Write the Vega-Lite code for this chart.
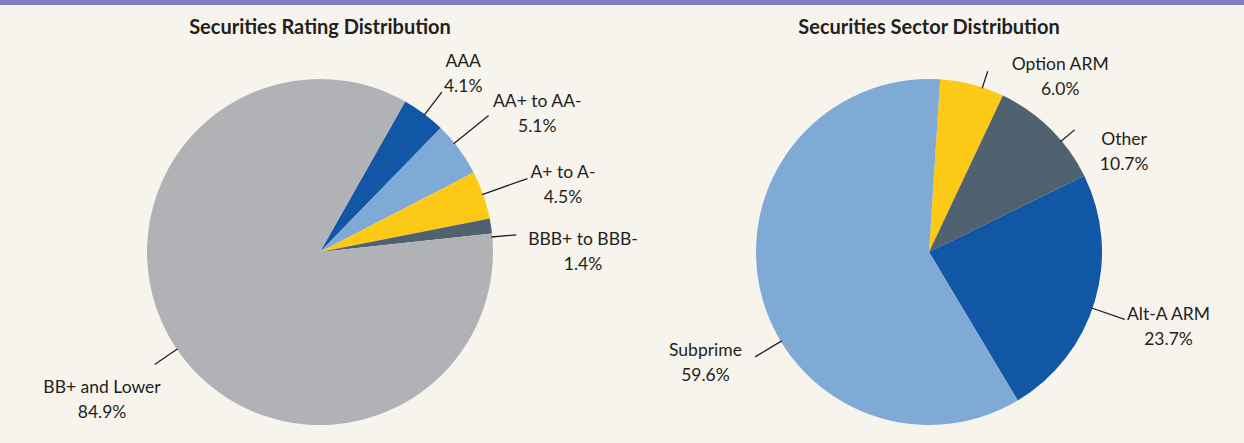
{
  "$schema": "https://vega.github.io/schema/vega-lite/v6.json",
  "background": "#f7f4ee",
  "padding": 0,
  "spacing": 13,
  "config": {
    "view": {"stroke": null, "fill": "#f7f4ee"},
    "text": {"font": "Lato", "fontSize": 17.5, "color": "#231f20", "baseline": "middle", "align": "center"},
    "title": {"font": "Lato", "fontSize": 20, "fontWeight": "bold", "color": "#231f20", "anchor": "middle", "frame": "group", "offset": 0}
  },
  "vconcat": [
    {
      "width": 1244,
      "height": 5,
      "data": {"values": [{"band": "top"}]},
      "mark": {"type": "rect", "color": "#7f80c2"},
      "encoding": {}
    },
    {
      "spacing": 0,
      "resolve": {"scale": {"color": "independent", "theta": "independent"}},
      "hconcat": [
        {
          "width": 640,
          "height": 420,
          "title": {"text": "Securities Rating Distribution"},
          "data": {"values": [
            {"category": "AAA", "share": 0.041},
            {"category": "AA+ to AA-", "share": 0.051},
            {"category": "A+ to A-", "share": 0.045},
            {"category": "BBB+ to BBB-", "share": 0.014},
            {"category": "BB+ and Lower", "share": 0.849}
          ]},
          "transform": [
            {"window": [{"op": "row_number", "as": "idx"}]},
            {"stack": "share", "groupby": [], "sort": [{"field": "idx", "order": "ascending"}], "as": ["s0", "s1"]}
          ],
          "encoding": {
            "theta": {"field": "s0", "type": "quantitative", "scale": {"domain": [0, 1], "range": [0.5149, 6.7981]}}
          },
          "layer": [
            {
              "mark": {"type": "arc", "radius": 173},
              "encoding": {
                "theta2": {"field": "s1"},
                "color": {"field": "category", "type": "nominal", "legend": null,
                "scale": {"domain": ["AAA", "AA+ to AA-", "A+ to A-", "BBB+ to BBB-", "BB+ and Lower"],
                          "range": ["#1256a6", "#7eaad5", "#fcc917", "#50616f", "#b1b2b6"]}}}
            },
            {"transform": [{"filter": "datum.category === 'AAA'"}], "layer": [
              {"mark": {"type": "arc", "filled": false, "color": "#231f20", "strokeWidth": 1.3, "radius": 201, "radius2": 172, "thetaOffset": 0.1361, "theta2Offset": 0.1361}, "encoding": {"theta2": {"field": "s0"}}},
              {"mark": {"type": "text", "radius": 228, "thetaOffset": 0.1641, "dy": -12.5}, "encoding": {"text": {"field": "category"}}},
              {"mark": {"type": "text", "radius": 228, "thetaOffset": 0.1641, "dy": 12.5}, "encoding": {"text": {"field": "share", "type": "quantitative", "format": ".1%"}}}
            ]},
            {"transform": [{"filter": "datum.category === 'AA+ to AA-'"}], "layer": [
              {"mark": {"type": "arc", "filled": false, "color": "#231f20", "strokeWidth": 1.3, "radius": 217, "radius2": 172, "thetaOffset": 0.1176, "theta2Offset": 0.1176}, "encoding": {"theta2": {"field": "s0"}}},
              {"mark": {"type": "text", "radius": 257, "thetaOffset": 0.2346, "dy": -12.5}, "encoding": {"text": {"field": "category"}}},
              {"mark": {"type": "text", "radius": 257, "thetaOffset": 0.2346, "dy": 12.5}, "encoding": {"text": {"field": "share", "type": "quantitative", "format": ".1%"}}}
            ]},
            {"transform": [{"filter": "datum.category === 'A+ to A-'"}], "layer": [
              {"mark": {"type": "arc", "filled": false, "color": "#231f20", "strokeWidth": 1.3, "radius": 220, "radius2": 172, "thetaOffset": 0.1375, "theta2Offset": 0.1375}, "encoding": {"theta2": {"field": "s0"}}},
              {"mark": {"type": "text", "radius": 252, "thetaOffset": 0.2091, "dy": -12.5}, "encoding": {"text": {"field": "category"}}},
              {"mark": {"type": "text", "radius": 252, "thetaOffset": 0.2091, "dy": 12.5}, "encoding": {"text": {"field": "share", "type": "quantitative", "format": ".1%"}}}
            ]},
            {"transform": [{"filter": "datum.category === 'BBB+ to BBB-'"}], "layer": [
              {"mark": {"type": "arc", "filled": false, "color": "#231f20", "strokeWidth": 1.3, "radius": 197, "radius2": 172, "thetaOffset": 0.1079, "theta2Offset": 0.1079}, "encoding": {"theta2": {"field": "s0"}}},
              {"mark": {"type": "text", "radius": 263, "thetaOffset": 0.1986, "dy": -12.5}, "encoding": {"text": {"field": "category"}}},
              {"mark": {"type": "text", "radius": 263, "thetaOffset": 0.1986, "dy": 12.5}, "encoding": {"text": {"field": "share", "type": "quantitative", "format": ".1%"}}}
            ]},
            {"transform": [{"filter": "datum.category === 'BB+ and Lower'"}], "layer": [
              {"mark": {"type": "arc", "filled": false, "color": "#231f20", "strokeWidth": 1.3, "radius": 200, "radius2": 172, "thetaOffset": 2.6518, "theta2Offset": 2.6518}, "encoding": {"theta2": {"field": "s0"}}},
              {"mark": {"type": "text", "radius": 264, "thetaOffset": 2.6492, "dy": -12.5}, "encoding": {"text": {"field": "category"}}},
              {"mark": {"type": "text", "radius": 264, "thetaOffset": 2.6492, "dy": 12.5}, "encoding": {"text": {"field": "share", "type": "quantitative", "format": ".1%"}}}
            ]}
          ]
        },
        {
          "width": 578,
          "height": 420,
          "title": {"text": "Securities Sector Distribution"},
          "data": {"values": [
            {"category": "Option ARM", "share": 0.060},
            {"category": "Other", "share": 0.107},
            {"category": "Alt-A ARM", "share": 0.237},
            {"category": "Subprime", "share": 0.596}
          ]},
          "transform": [
            {"window": [{"op": "row_number", "as": "idx"}]},
            {"stack": "share", "groupby": [], "sort": [{"field": "idx", "order": "ascending"}], "as": ["s0", "s1"]}
          ],
          "encoding": {
            "theta": {"field": "s0", "type": "quantitative", "scale": {"domain": [0, 1], "range": [0.0646, 6.3478]}}
          },
          "layer": [
            {
              "mark": {"type": "arc", "radius": 173},
              "encoding": {
                "theta2": {"field": "s1"},
                "color": {"field": "category", "type": "nominal", "legend": null,
                "scale": {"domain": ["Option ARM", "Other", "Alt-A ARM", "Subprime"],
                          "range": ["#fcc917", "#50616f", "#1256a6", "#7eaad5"]}}}
            },
            {"transform": [{"filter": "datum.category === 'Option ARM'"}], "layer": [
              {"mark": {"type": "arc", "filled": false, "color": "#231f20", "strokeWidth": 1.3, "radius": 190, "radius2": 172, "thetaOffset": 0.2496, "theta2Offset": 0.2496}, "encoding": {"theta2": {"field": "s0"}}},
              {"mark": {"type": "text", "radius": 218, "thetaOffset": 0.5812, "dy": -12.5}, "encoding": {"text": {"field": "category"}}},
              {"mark": {"type": "text", "radius": 218, "thetaOffset": 0.5812, "dy": 12.5}, "encoding": {"text": {"field": "share", "type": "quantitative", "format": ".1%"}}}
            ]},
            {"transform": [{"filter": "datum.category === 'Other'"}], "layer": [
              {"mark": {"type": "arc", "filled": false, "color": "#231f20", "strokeWidth": 1.3, "radius": 190, "radius2": 172, "thetaOffset": 0.4311, "theta2Offset": 0.4311}, "encoding": {"theta2": {"field": "s0"}}},
              {"mark": {"type": "text", "radius": 219, "thetaOffset": 0.658, "dy": -12.5}, "encoding": {"text": {"field": "category"}}},
              {"mark": {"type": "text", "radius": 219, "thetaOffset": 0.658, "dy": 12.5}, "encoding": {"text": {"field": "share", "type": "quantitative", "format": ".1%"}}}
            ]},
            {"transform": [{"filter": "datum.category === 'Alt-A ARM'"}], "layer": [
              {"mark": {"type": "arc", "filled": false, "color": "#231f20", "strokeWidth": 1.3, "radius": 207, "radius2": 172, "thetaOffset": 0.7885, "theta2Offset": 0.7885}, "encoding": {"theta2": {"field": "s0"}}},
              {"mark": {"type": "text", "radius": 251, "thetaOffset": 0.7606, "dy": -12.5}, "encoding": {"text": {"field": "category"}}},
              {"mark": {"type": "text", "radius": 251, "thetaOffset": 0.7606, "dy": 12.5}, "encoding": {"text": {"field": "share", "type": "quantitative", "format": ".1%"}}}
            ]},
            {"transform": [{"filter": "datum.category === 'Subprime'"}], "layer": [
              {"mark": {"type": "arc", "filled": false, "color": "#231f20", "strokeWidth": 1.3, "radius": 203, "radius2": 172, "thetaOffset": 1.5666, "theta2Offset": 1.5666}, "encoding": {"theta2": {"field": "s0"}}},
              {"mark": {"type": "text", "radius": 250, "thetaOffset": 1.6452, "dy": -12.5}, "encoding": {"text": {"field": "category"}}},
              {"mark": {"type": "text", "radius": 250, "thetaOffset": 1.6452, "dy": 12.5}, "encoding": {"text": {"field": "share", "type": "quantitative", "format": ".1%"}}}
            ]}
          ]
        }
      ]
    }
  ]
}
